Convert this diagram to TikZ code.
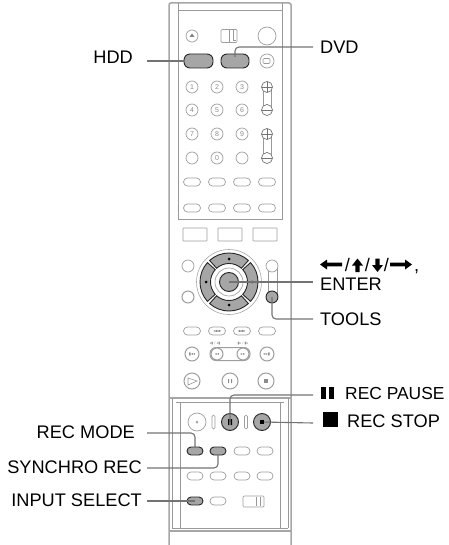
\documentclass[tikz,border=0pt]{standalone}
\usepackage{fontspec}
\setmainfont{Liberation Sans}
\newfontfamily\symfont{DejaVu Sans}
\begin{document}
\begin{tikzpicture}[x=1pt,y=-1pt,
  bodyline/.style={draw=black!35,line width=1.5pt},
  thinl/.style={draw=black!40,line width=.6pt},
  lb/.style={draw=black!38,line width=.7pt,fill=white},
  ov/.style={lb,rounded corners=4pt,minimum width=17pt,minimum height=8pt,inner sep=0pt,outer sep=0pt},
  rb/.style={lb,circle,minimum size=12pt,inner sep=0pt,outer sep=0pt},
  num/.style={rb,font=\fontsize{7}{7}\selectfont,text=black!45},
  key/.style={draw=black!85,line width=.9pt,fill=black!35},
  keyov/.style={key,rounded corners=6pt,inner sep=0pt,outer sep=0pt},
  keyc/.style={key,circle,inner sep=0pt,outer sep=0pt,minimum size=17pt},
  leader/.style={draw=black!55,line width=1.1pt,rounded corners=4pt},
  lab/.style={font=\fontsize{18.2}{20}\selectfont,text=black,inner sep=0pt},
  tiny/.style={font=\fontsize{4}{4}\selectfont\symfont,text=black!45,inner sep=0pt}
]
\useasboundingbox (0,0) rectangle (448,545);
% body
\draw[bodyline,rounded corners=2pt] (169,545)--(169,3)--(291,3)--(291,545);
\draw[thinl] (178,3)--(178,219)--(282,219)--(282,3);
\draw[thinl] (178,10)--(282,10);
\draw[bodyline] (169,398)--(291,398);
\draw[thinl] (172,398)--(172,528);
\draw[thinl] (288,398)--(288,528);
\draw[thinl] (180,402)--(180,528);
\draw[thinl] (280,402)--(280,528);
\draw[thinl] (176,402)--(284,402);
\draw[bodyline] (169,531)--(291,531);
\draw[thinl] (172,528)--(288,528);
% top row
\node[rb] (eject) at (192,36) {};
\fill[black!50] (189.5,37)--(192,33.5)--(194.5,37)--cycle;
\node[lb,minimum width=16pt,minimum height=13pt,inner sep=0pt,rounded corners=1pt] (sw1) at (229,36) {};
\draw[thinl] (229,30)--(229,42) (233,30)--(233,40)--(236,40);
\node[rb,minimum size=18pt] (big) at (267,36) {};
\node[keyov,minimum width=29pt,minimum height=14pt] (hdd) at (198.5,61) {};
\node[keyov,minimum width=28pt,minimum height=14pt] (dvd) at (235,61) {};
\node[rb,minimum size=14pt] (inp) at (267,61) {};
\draw[thinl,rounded corners=1pt] (263,58.5) rectangle (270,63.5);
% numbers
\draw[thinl] (263,87)--(263,110) (271,87)--(271,110) (263,134)--(263,158) (271,134)--(271,158);
\foreach \t/\x/\y/\n in {1/192/87/a,2/217/87/b,3/242/87/c,4/192/110/d,5/217/110/e,6/242/110/f,7/192/134/g,8/217/134/h,9/242/134/i,{}/192/158/j,0/217/158/k,{}/242/158/l}
  \node[num] (n\n) at (\x,\y) {\t};
\foreach \y/\n in {87/p1,110/m1,134/p2,158/m2}{
  \node[rb,draw=black!55,minimum size=11pt] (v\n) at (267,\y) {};
  \draw[black!55,line width=.9pt] (262,\y)--(272,\y);
}
\draw[black!55,line width=.9pt] (267,82)--(267,92) (267,129)--(267,139);
% oval rows
\foreach \y in {182,208,331}\foreach \x in {192,217,242,267}
  \node[ov] (o\x x\y) at (\x,\y) {};
\node[tiny] (bk) at (217,331) {◂▪▪};
\node[tiny] (fw) at (242,331) {▪▪▸};
\node[tiny,font=\fontsize{3.5}{3.5}\selectfont\symfont] (tl) at (215,343) {◂▮ / ◂▮};
\node[tiny,font=\fontsize{3.5}{3.5}\selectfont\symfont] (tr) at (243,343) {▮▸ / ▮▸};
% rectangles
\foreach \x in {195,230,265}
  \node[lb,minimum width=24pt,minimum height=13pt,inner sep=0pt,rounded corners=.5pt] (r\x) at (\x,234.5) {};
% side round buttons
\draw[thinl] (268,266)--(268,297) (277,266)--(277,297);
\node[rb] (cl) at (188,266) {};
\node[rb,line width=1pt] (rt) at (188,297) {};
\node[rb] (cr) at (272,266) {};
\node[key,circle,inner sep=0pt,outer sep=0pt,minimum size=12pt] (tools) at (272,297) {};
% dpad
\begin{scope}[shift={(229,282)},x=1pt,y=1pt]
\draw[black!35,line width=.6pt,fill=white] (0,0) circle (32.5);
\foreach \a/\b in {48/132,138/222,228/312,318/402}{
  \draw[key] (\a:29) arc (\a:\b:29) -- (\b:18.5) arc (\b:\a:18.5) -- cycle;
}
\draw[black!40,line width=.6pt] (0,0) circle (14);
\fill[black] (0,23) circle (1.5) (0,-23) circle (1.5) (23,0) circle (1.5) (-23,0) circle (1.5);
\end{scope}
\node[keyc,minimum size=19pt] (enter) at (229,282) {};
% transport
\node[rb,minimum size=14pt,line width=1pt,font=\fontsize{4}{4}\selectfont\symfont,text=black!50] (skipl) at (192,354) {▮◂◂};
\node[rb,minimum size=14pt,line width=1pt,font=\fontsize{4}{4}\selectfont\symfont,text=black!50] (skipr) at (267,354) {▸▸▮};
\node[lb,line width=1pt,rounded corners=6pt,minimum width=40pt,minimum height=13pt,inner sep=0pt] (cap) at (230,354) {};
\node[rb,line width=1pt,minimum size=12pt,font=\fontsize{4}{4}\selectfont\symfont,text=black!50] (capl) at (217,354) {◂◂};
\node[rb,line width=1pt,minimum size=12pt,font=\fontsize{4}{4}\selectfont\symfont,text=black!50] (capr) at (243,354) {▸▸};
\node[rb,minimum size=16pt,line width=1pt] (play) at (192,381) {};
\draw[thinl] (188,378)--(197,381)--(188,385)--cycle;
\node[rb,minimum size=16pt,line width=1pt] (ps) at (230,381) {};
\fill[black!45] (228,379) rectangle (229,383) (231,379) rectangle (232,383);
\node[rb,minimum size=16pt,line width=1pt] (st) at (266,381) {};
\fill[black!45] (264,379) rectangle (268,383);
% rec row
\node[rb,minimum size=18pt] (rec) at (197,422) {};
\fill[black!35] (197,422) circle (1.5);
\node[lb,rounded corners=1.5pt,minimum width=3pt,minimum height=14pt,inner sep=0pt] (b1) at (213.5,422) {};
\node[lb,rounded corners=1.5pt,minimum width=3pt,minimum height=14pt,inner sep=0pt] (b2) at (246,422) {};
\node[keyc] (pause) at (230,422) {};
\node[keyc] (stop) at (262,422) {};
% lower rows
\node[keyov,rounded corners=4pt,minimum width=16pt,minimum height=8pt] (mode) at (195,451) {};
\node[keyov,rounded corners=4pt,minimum width=16pt,minimum height=8pt] (sync) at (218,451) {};
\node[ov,minimum width=16pt] (o3) at (242,451) {};
\node[ov,minimum width=16pt] (o4) at (265,451) {};
\foreach \x in {195,218,242,265} \node[ov,minimum width=16pt] (q\x) at (\x,476) {};
\node[keyov,rounded corners=4pt,minimum width=16pt,minimum height=8pt] (input) at (195,501) {};
\node[ov,minimum width=16pt] (i2) at (218,501) {};
\node[lb,minimum width=21pt,minimum height=11pt,inner sep=0pt,rounded corners=1pt] (sw2) at (253.5,501.5) {};
\draw[thinl] (256,497)--(256,506) (260,497)--(260,506);
% leader ends
\coordinate (lh) at (147,61);
\coordinate (ld) at (313,47);
\coordinate (le) at (313,282);
\coordinate (lt) at (313,319);
\coordinate (lp) at (313,395);
\coordinate (ls) at (313,423);
\coordinate (lm) at (147,433);
\coordinate (ly) at (147,468);
\coordinate (li) at (147,501);
\draw[leader] (lh)--(hdd.west);
\draw[leader] (ld)--(235,47)--(235,57);
\draw[leader] (le)--(enter.center);
\draw[leader] (lt)--(272,319)--(tools.center);
\draw[leader] (lp)--(230,395)--(pause.center);
\draw[leader] (ls)--(stop.center);
\draw[leader] (lm)--(195,433)--(mode.north);
\draw[leader] (ly)--(218,468)--(sync.south);
\draw[leader] (li)--(input.center);
\fill[black] (228,419) rectangle (229.3,425) (230.7,419) rectangle (232,425);
\fill[black] (260,420) rectangle (264,424);
% labels
\node[lab,anchor=east] (thdd) at (133,57) {HDD};
\node[lab,anchor=west] (tdvd) at (320,47) {DVD};
% arrow row
\fill[black] (320,264.5)--(327,259.5)--(327,262.7)--(342,262.7)--(342,266.3)--(327,266.3)--(327,269.5)--cycle;
\fill[black] (357.5,258.5)--(363,265.5)--(359.6,265.5)--(359.6,272)--(355.4,272)--(355.4,265.5)--(352,265.5)--cycle;
\fill[black] (377.5,272)--(383,265)--(379.6,265)--(379.6,258.5)--(375.4,258.5)--(375.4,265)--(372,265)--cycle;
\fill[black] (412,264.5)--(405,259.5)--(405,262.7)--(390,262.7)--(390,266.3)--(405,266.3)--(405,269.5)--cycle;
\node[lab,anchor=base] (s1) at (347.5,271) {/};
\node[lab,anchor=base] (s2) at (367.5,271) {/};
\node[lab,anchor=base] (s3) at (386.5,271) {/};
\node[lab,anchor=base west] (cm) at (414,271) {,};
\node[lab,anchor=west] (tent) at (320,284) {ENTER};
\node[lab,anchor=west] (ttoo) at (320,319) {TOOLS};
\node[lab,anchor=base west] (tpau) at (321,399) {\rule{5pt}{12pt}\kern3pt\rule{5pt}{12pt}\kern11pt\fontsize{17.4}{20}\selectfont REC PAUSE};
\node[lab,anchor=base west] (tsto) at (323,427) {\rule{15pt}{15pt}\kern9pt REC STOP};
\node[lab,anchor=east] (tmod) at (135,432) {REC MODE};
\node[lab,anchor=east] (tsyn) at (142,467) {SYNCHRO REC};
\node[lab,anchor=east] (tinp) at (142,500) {INPUT SELECT};
\end{tikzpicture}
\end{document}
